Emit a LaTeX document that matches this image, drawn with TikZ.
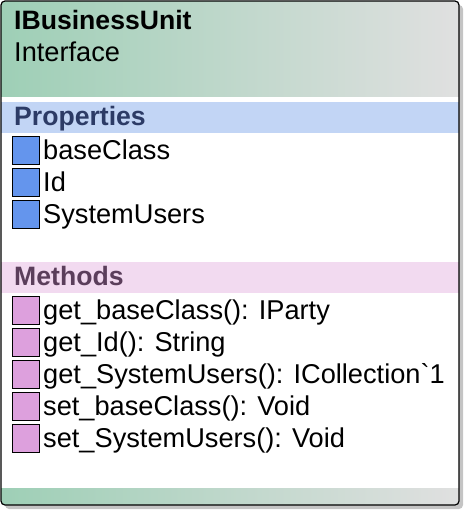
\documentclass[tikz,border=0pt]{standalone}
\usepackage{fontspec}
\setmainfont{Liberation Sans}
\usetikzlibrary{positioning}
\definecolor{headgreen}{HTML}{9ECFB6}
\definecolor{headgray}{HTML}{E0E0E0}
\definecolor{propband}{HTML}{C2D5F5}
\definecolor{proptext}{HTML}{2C3B66}
\definecolor{propicon}{HTML}{6495ED}
\definecolor{methband}{HTML}{F2DAF0}
\definecolor{methtext}{HTML}{5B3E5B}
\definecolor{methicon}{HTML}{DDA0DD}
\definecolor{shadowgray}{HTML}{C4C4C4}

\begin{document}
\begin{tikzpicture}[x=1pt,y=-1pt]
		\tikzstyle{member} = [draw=black,line width=1pt,minimum width=27pt,minimum height=28pt,inner sep=0pt,anchor=north west]
		\tikzstyle{memtext} = [inner sep=0pt,anchor=base west,font=\fontsize{27.2}{30}\selectfont]
		\tikzstyle{band} = [inner sep=0pt,anchor=base west,font=\fontsize{26.6}{30}\selectfont\bfseries]
		\useasboundingbox (0,0) rectangle (466,512);
		% Frame
		\fill[shadowgray,rounded corners=4pt] (5,5) rectangle (463,509);
		\fill[white,rounded corners=4pt] (1,1) rectangle (459,505);
		\begin{scope}
			\clip[rounded corners=4pt] (1,1) rectangle (459,505);
			\shade[left color=headgreen,right color=headgray] (1,1) rectangle (459,96);
			\shade[left color=headgreen,right color=headgray] (1,488) rectangle (459,504);
			\fill[propband] (1,102) rectangle (459,133);
			\fill[methband] (1,262) rectangle (459,293);
		\end{scope}
		\draw[black,line width=1.2pt,rounded corners=4pt] (1,1) rectangle (459,505);
		% Header
		\node[band] (title) at (14,29) {IBusinessUnit};
		\node[memtext] (kind) at (14,61) {Interface};
		% Properties
		\node[band,text=proptext] (props) at (14,125) {Properties};
		\node[member,fill=propicon] (p1) at (12,136) {};
		\node[memtext] (p1t) at ([xshift=3pt,yshift=6pt]p1.south east) {baseClass};
		\node[member,fill=propicon] (p2) at (12,168) {};
		\node[memtext] (p2t) at ([xshift=3pt,yshift=6pt]p2.south east) {Id};
		\node[member,fill=propicon] (p3) at (12,200) {};
		\node[memtext] (p3t) at ([xshift=3pt,yshift=6pt]p3.south east) {SystemUsers};
		% Methods
		\node[band,text=methtext] (meths) at (14,285) {Methods};
		\node[member,fill=methicon] (m1) at (12,296) {};
		\node[memtext] (m1t) at ([xshift=3pt,yshift=6pt]m1.south east) {get\_baseClass(): IParty};
		\node[member,fill=methicon] (m2) at (12,328) {};
		\node[memtext] (m2t) at ([xshift=3pt,yshift=6pt]m2.south east) {get\_Id(): String};
		\node[member,fill=methicon] (m3) at (12,360) {};
		\node[memtext] (m3t) at ([xshift=3pt,yshift=6pt]m3.south east) {get\_SystemUsers(): ICollection\textasciigrave 1};
		\node[member,fill=methicon] (m4) at (12,392) {};
		\node[memtext] (m4t) at ([xshift=3pt,yshift=6pt]m4.south east) {set\_baseClass(): Void};
		\node[member,fill=methicon] (m5) at (12,424) {};
		\node[memtext] (m5t) at ([xshift=3pt,yshift=6pt]m5.south east) {set\_SystemUsers(): Void};
\end{tikzpicture}
\end{document}
